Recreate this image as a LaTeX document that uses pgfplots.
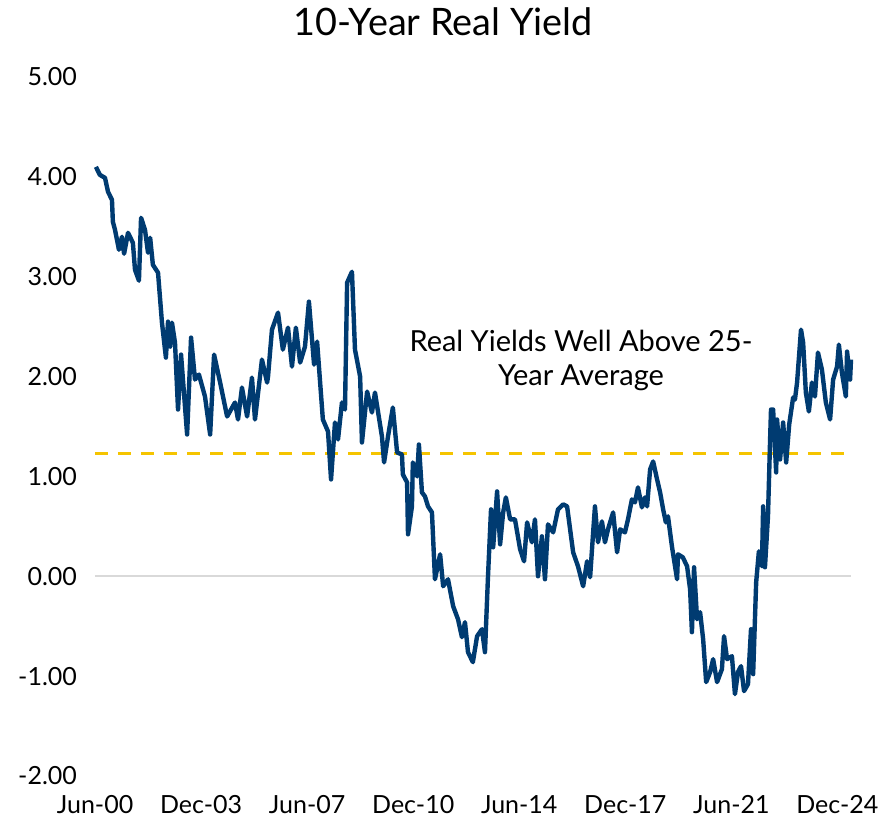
\documentclass[border=0pt]{standalone}
\usepackage{fontspec}
\setmainfont{Lato}
\usepackage{pgfplots}
\pgfplotsset{compat=1.18}

\definecolor{navy}{HTML}{003B71}
\definecolor{gold}{HTML}{F5C400}
\definecolor{zeroline}{HTML}{D9D9D9}

\pgfplotstableread{
t y
2000.45 4.10
2000.58 4.02
2000.75 3.99
2000.85 3.85
2000.98 3.77
2001.01 3.55
2001.08 3.47
2001.21 3.27
2001.31 3.40
2001.38 3.23
2001.51 3.44
2001.67 3.34
2001.74 3.07
2001.87 2.96
2001.94 3.59
2002.07 3.47
2002.17 3.24
2002.24 3.39
2002.33 3.12
2002.50 3.04
2002.63 2.54
2002.76 2.19
2002.83 2.55
2002.90 2.30
2002.96 2.54
2003.06 2.34
2003.16 1.67
2003.26 2.22
2003.46 1.42
2003.59 2.39
2003.72 1.97
2003.85 2.02
2004.05 1.80
2004.22 1.42
2004.35 2.22
2004.55 1.94
2004.78 1.60
2005.04 1.74
2005.14 1.57
2005.27 1.89
2005.44 1.60
2005.60 1.99
2005.70 1.57
2005.93 2.17
2006.10 1.94
2006.13 2.00
2006.26 2.47
2006.46 2.64
2006.62 2.27
2006.79 2.49
2006.92 2.10
2007.05 2.49
2007.19 2.14
2007.35 2.30
2007.48 2.75
2007.65 2.12
2007.75 2.35
2007.94 1.57
2008.11 1.45
2008.21 0.97
2008.34 1.54
2008.44 1.37
2008.57 1.74
2008.67 1.67
2008.74 2.94
2008.90 3.05
2009.00 2.27
2009.17 2.00
2009.23 1.34
2009.40 1.85
2009.56 1.64
2009.66 1.84
2009.89 1.40
2009.96 1.14
2010.09 1.40
2010.25 1.69
2010.39 1.24
2010.55 1.22
2010.58 1.02
2010.72 0.94
2010.75 0.42
2010.88 0.70
2010.91 1.14
2011.05 1.00
2011.11 1.32
2011.21 0.84
2011.31 0.80
2011.41 0.70
2011.54 0.64
2011.64 -0.03
2011.81 0.22
2011.91 -0.10
2012.07 -0.03
2012.24 -0.30
2012.40 -0.43
2012.53 -0.61
2012.63 -0.46
2012.73 -0.76
2012.89 -0.86
2013.03 -0.60
2013.19 -0.53
2013.29 -0.76
2013.39 0.00
2013.49 0.67
2013.56 0.29
2013.69 0.85
2013.79 0.32
2013.89 0.64
2013.98 0.79
2014.12 0.57
2014.28 0.57
2014.45 0.27
2014.58 0.15
2014.68 0.54
2014.84 0.34
2014.94 0.57
2015.04 0.00
2015.17 0.40
2015.27 -0.03
2015.37 0.52
2015.54 0.44
2015.70 0.67
2015.87 0.72
2016.00 0.70
2016.10 0.47
2016.20 0.24
2016.36 0.10
2016.53 -0.10
2016.66 0.15
2016.76 -0.01
2016.86 0.44
2016.92 0.70
2017.02 0.34
2017.15 0.55
2017.25 0.34
2017.35 0.47
2017.52 0.64
2017.65 0.24
2017.75 0.47
2017.91 0.44
2018.01 0.57
2018.14 0.77
2018.24 0.74
2018.34 0.89
2018.47 0.69
2018.57 0.79
2018.64 0.70
2018.74 1.07
2018.84 1.15
2018.97 0.97
2019.07 0.84
2019.17 0.67
2019.26 0.54
2019.33 0.60
2019.46 0.30
2019.63 -0.03
2019.66 0.22
2019.82 0.19
2019.96 0.10
2020.06 -0.13
2020.12 -0.56
2020.19 0.09
2020.29 -0.43
2020.39 -0.36
2020.49 -0.63
2020.59 -1.06
2020.72 -0.96
2020.82 -0.83
2020.95 -1.06
2021.11 -0.93
2021.18 -0.60
2021.28 -0.83
2021.44 -0.80
2021.54 -1.18
2021.64 -0.96
2021.74 -0.90
2021.84 -1.15
2021.97 -1.08
2022.07 -0.53
2022.14 -0.98
2022.24 -0.06
2022.33 0.25
2022.43 0.10
2022.47 0.70
2022.53 0.09
2022.63 0.60
2022.70 1.37
2022.73 1.67
2022.80 1.67
2022.90 1.04
2022.93 1.57
2023.03 1.17
2023.13 1.54
2023.23 1.14
2023.33 1.52
2023.46 1.79
2023.52 1.77
2023.59 1.94
2023.72 2.47
2023.79 2.34
2023.88 1.84
2023.98 1.65
2024.08 1.94
2024.18 1.80
2024.28 2.24
2024.41 2.07
2024.54 1.74
2024.68 1.57
2024.78 1.97
2024.91 2.10
2024.97 2.32
2025.07 2.04
2025.20 1.80
2025.24 2.25
2025.34 1.97
2025.37 2.17
}\realyield

\begin{document}
\begin{tikzpicture}
\begin{axis}[
    scale only axis,
    width=378pt,
    height=349.5pt,
    xmin=2000.42, xmax=2025.37,
    ymin=-2, ymax=5,
    axis line style={draw=none},
    major tick length=0pt,
    xtick={2000.42,2003.92,2007.42,2010.92,2014.42,2017.92,2021.42,2024.92},
    xticklabels={Jun-00,Dec-03,Jun-07,Dec-10,Jun-14,Dec-17,Jun-21,Dec-24},
    ytick={-2,-1,0,1,2,3,4,5},
    yticklabels={-2.00,-1.00,0.00,1.00,2.00,3.00,4.00,5.00},
    ticklabel style={font=\fontsize{12.5}{15}\selectfont, text=black},
    yticklabel style={xshift=-5.5pt},
    xticklabel style={yshift=-6pt},
    clip=false,
]
\addplot[zeroline, line width=1pt] coordinates {(2000.42,0) (2025.37,0)};
\addplot[gold, line width=1.8pt, dash pattern=on 6.5pt off 5pt] coordinates {(2000.42,1.23) (2025.37,1.23)};
\addplot[navy, line width=2.2pt, line join=round] table[x=t, y=y] {\realyield};
\node[font=\fontsize{14.5}{17}\selectfont, anchor=center] at (axis cs:2016.46,2.36) {Real Yields Well Above 25-};
\node[font=\fontsize{14.5}{17}\selectfont, anchor=center] at (axis cs:2016.46,1.99) {Year Average};
\end{axis}
\node[font=\fontsize{18.9}{23}\selectfont, anchor=base] at (174pt,370pt) {10-Year Real Yield};
\pgfresetboundingbox
\path (-47.5pt,-21pt) rectangle (399.5pt,388pt);
\end{tikzpicture}
\end{document}
